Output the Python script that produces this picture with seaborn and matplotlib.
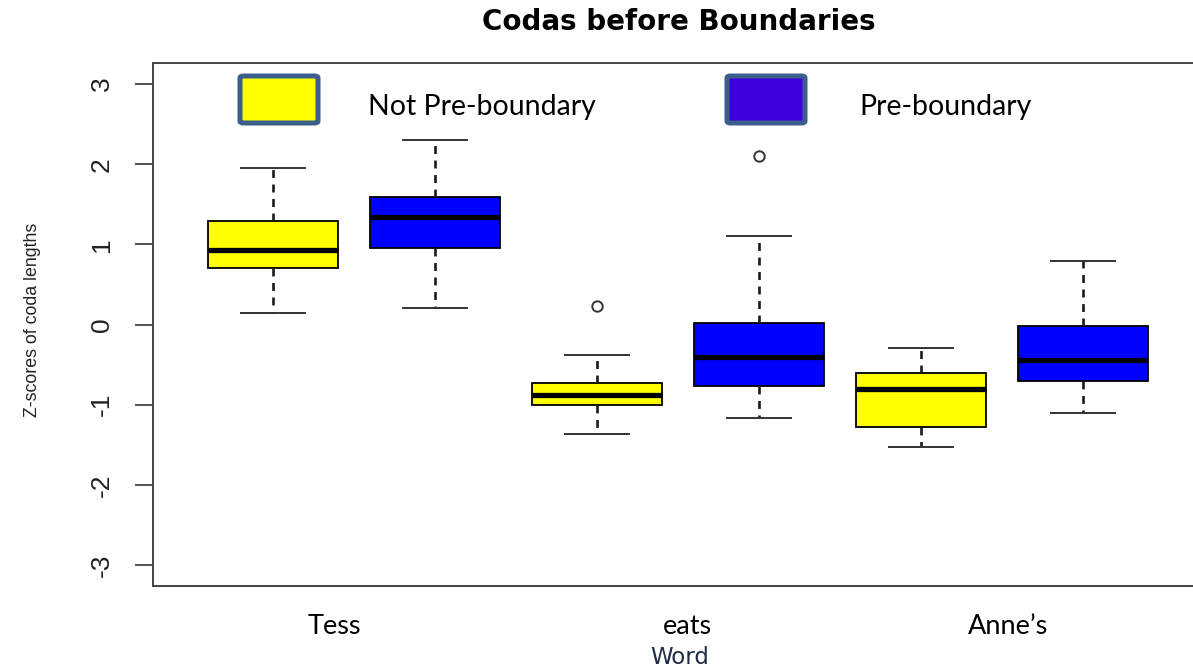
import matplotlib
matplotlib.use("Agg")
import matplotlib.pyplot as plt
from matplotlib.patches import FancyBboxPatch
import seaborn as sns
import pandas as pd

# ---- data (five-number summaries + outliers) ----
words = ["Tess", "eats", "Anne\u2019s"]
conditions = ["Not Pre-boundary", "Pre-boundary"]
tess_not = [0.14, 0.45, 0.70, 0.82, 0.93, 1.10, 1.29, 1.60, 1.95]
tess_pre = [0.21, 0.60, 0.95, 1.15, 1.34, 1.45, 1.59, 1.90, 2.30]
eats_not = [-1.36, -1.10, -1.00, -0.95, -0.88, -0.80, -0.73, -0.38, 0.23]
eats_pre = [-1.17, -0.90, -0.77, -0.60, -0.40, -0.20, 0.02, 1.10, 2.10]
annes_not = [-1.53, -1.40, -1.28, -1.00, -0.80, -0.70, -0.60, -0.45, -0.29]
annes_pre = [-1.10, -0.85, -0.70, -0.55, -0.44, -0.25, -0.02, 0.40, 0.79]
y_ticks = [-3, -2, -1, 0, 1, 2, 3]
word_label_pos = [0.38, 2.56, 4.54]

series = [
    ("Tess", "Not Pre-boundary", tess_not),
    ("Tess", "Pre-boundary", tess_pre),
    ("eats", "Not Pre-boundary", eats_not),
    ("eats", "Pre-boundary", eats_pre),
    ("Anne\u2019s", "Not Pre-boundary", annes_not),
    ("Anne\u2019s", "Pre-boundary", annes_pre),
]
rows = []
for w, c, vals in series:
    for v in vals:
        rows.append({"group": f"{w} | {c}", "cond": c, "z": v})
df = pd.DataFrame(rows)
group_order = [f"{w} | {c}" for w, c, _ in series]

NARROW = ["Liberation Sans Narrow", "Liberation Sans"]

W, H = 1193, 667
fig = plt.figure(figsize=(W / 100, H / 100), dpi=100)
ax = fig.add_axes([153 / W, 1 - 586 / H, 1051 / W, (586 - 63) / H])

sns.boxplot(
    data=df, x="group", y="z", hue="cond", order=group_order,
    hue_order=conditions, dodge=False, width=0.8, saturation=1,
    palette={"Not Pre-boundary": "#FFFF00", "Pre-boundary": "#0000FF"},
    linecolor="black", linewidth=1.3, legend=False, ax=ax,
    medianprops=dict(color="black", linewidth=3.8),
    whiskerprops=dict(color="#1a1a1a", linestyle=(0, (3, 2.5)), linewidth=1.9),
    capprops=dict(color="#333333", linewidth=1.4),
    flierprops=dict(marker="o", markersize=7.5, markerfacecolor="none",
                    markeredgecolor="#333333", markeredgewidth=1.4),
)

ax.set_xlim(-0.741, 5.747)
ax.set_ylim(-3.262, 3.262)
for s in ax.spines.values():
    s.set_color("#444444")
    s.set_linewidth(1.4)

ax.set_yticks(y_ticks)
ax.set_yticklabels([str(t) for t in y_ticks], family=NARROW,
                   fontsize=19, color="#222222", rotation=90, va="center")
ax.tick_params(axis="y", length=13, width=1.3, color="#444444", pad=15)

ax.set_xticks(word_label_pos)
ax.set_xticklabels(words, family="Lato", fontsize=19.5, color="black")
ax.tick_params(axis="x", length=0, pad=20)
ax.set_xlabel("")
ax.set_ylabel("")

fig.text(679 / W, 1 - 22 / H, "Codas before Boundaries", ha="center", va="center",
         fontsize=20, fontweight="bold", family="DejaVu Sans", color="black")
fig.text(33 / W, 1 - 320 / H, "Z-scores of coda lengths", rotation=90,
         ha="center", va="center", family=NARROW,
         fontsize=12.8, color="#222222")
fig.text(680 / W, 1 - 657 / H, "Word", ha="center", va="center",
         fontsize=16.5, family="DejaVu Sans", color="#1f2a44")

# legend drawn as in the original (boxes with slate border + text)
legend_items = [
    (240, 76, 78, 47, "#FFFF00", 368, "Not Pre-boundary"),
    (727, 76, 78, 47, "#3F00E0", 859, "Pre-boundary"),
]
for x0, y0, bw, bh, fc, tx, label in legend_items:
    p = FancyBboxPatch((x0 / W, 1 - (y0 + bh) / H), bw / W, bh / H,
                       boxstyle="round,pad=0,rounding_size=0.003",
                       transform=fig.transFigure, facecolor=fc,
                       edgecolor="#3B5E8C", linewidth=3.6)
    fig.add_artist(p)
    fig.text(tx / W, 1 - 107 / H, label, ha="left", va="center",
             family="Lato", fontsize=20.5, color="black")

fig.savefig("out.png", dpi=100)
